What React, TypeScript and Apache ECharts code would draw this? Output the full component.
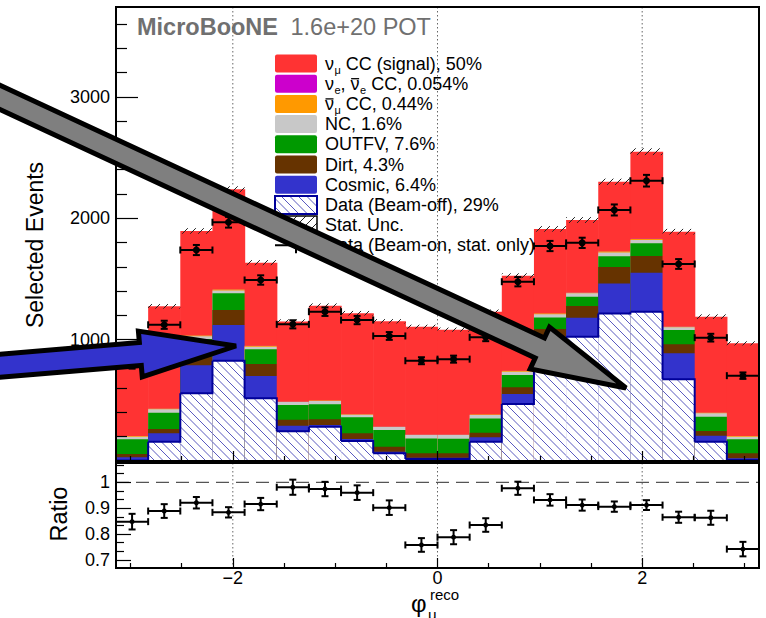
import { useEffect, useRef } from "react";
import * as echarts from "echarts";

// ---- binning: 20 bins of reconstructed muon azimuth, -pi .. pi ----
const PI = Math.PI;
const BIN_WIDTH = PI / 10;
const binLow = Array.from({ length: 20 }, (_, i) => -PI + i * BIN_WIDTH);

// ---- stacked prediction, events per bin (bottom to top) ----
const beamOff = [5, 159, 558, 826, 516, 246, 283, 165, 63, 16, 16, 159, 470, 890, 1024, 1216, 1230, 673, 159, 8];
const cosmic = [25, 69, 230, 294, 184, 44, 14, 16, 14, 11, 11, 36, 82, 120, 156, 247, 321, 214, 49, 14];
const dirt = [28, 36, 71, 124, 99, 50, 46, 47, 41, 36, 36, 38, 55, 77, 97, 135, 138, 74, 39, 41];
const outFV = [121, 134, 146, 137, 121, 121, 125, 132, 137, 123, 120, 118, 101, 95, 77, 88, 104, 118, 118, 116];
const nc = [21, 28, 23, 24, 22, 25, 27, 20, 25, 28, 31, 28, 28, 27, 27, 32, 27, 22, 28, 21];
const numuBarCC = [5, 6, 8, 10, 7, 5, 6, 5, 5, 5, 5, 6, 7, 8, 8, 10, 11, 8, 6, 5];
const nueCC = [1, 1, 1, 1, 1, 1, 1, 1, 1, 1, 1, 1, 1, 1, 1, 1, 1, 1, 1, 1];
const numuCC = [724, 841, 858, 822, 684, 657, 777, 831, 865, 886, 862, 844, 782, 694, 595, 571, 716, 779, 789, 763];
const statUnc = [17, 19, 23, 25, 21, 18, 19, 19, 18, 17, 17, 18, 20, 23, 24, 26, 28, 23, 19, 17];

// ---- beam-on data and data / prediction ratio ----
const beamOn = [789, 1122, 1738, 1967, 1491, 1126, 1230, 1161, 1030, 826, 839, 1019, 1477, 1771, 1797, 2068, 2309, 1623, 1016, 703];
const ratio = [0.848, 0.889, 0.921, 0.884, 0.916, 0.981, 0.974, 0.96, 0.902, 0.758, 0.788, 0.835, 0.977, 0.932, 0.912, 0.906, 0.912, 0.865, 0.863, 0.742];

// ---- axis ticks ----
const xMajor = [-2, 0, 2];
const xMinor = [-3, -2.5, -1.5, -1, -0.5, 0.5, 1, 1.5, 2.5, 3];
const yMajor = [1000, 2000, 3000];
const yMinor = [200, 400, 600, 800, 1200, 1400, 1600, 1800, 2200, 2400, 2600, 2800, 3200, 3400, 3600];
const rMajor = [0.7, 0.8, 0.9, 1.0];
const rMinor = [0.7333, 0.7667, 0.8333, 0.8667, 0.9333, 0.9667, 1.0333, 1.0667];

const FONT = '"Liberation Sans", Arial, Helvetica, sans-serif';

const stackLayers = [
  { values: beamOff, color: "#ffffff" },
  { values: cosmic, color: "#3333cc" },
  { values: dirt, color: "#663300" },
  { values: outFV, color: "#009900" },
  { values: nc, color: "#c8c8c8" },
  { values: numuBarCC, color: "#ff9900" },
  { values: nueCC, color: "#cc00cc" },
  { values: numuCC, color: "#ff3333" },
];

const totalPred = (i: number) => stackLayers.reduce((s, l) => s + l.values[i], 0);

// Diagonal hatch lines clipped to a box; dir "\\" or "/", aligned globally.
function hatch(X0: number, Y0: number, X1: number, Y1: number, s: number, dir: string, stroke: string, lw = 1) {
  const out: any[] = [];
  if (dir === "\\") {
    const k0 = Math.ceil((Y0 - X1) / s), k1 = Math.floor((Y1 - X0) / s);
    for (let k = k0; k <= k1; k++) {
      const c = k * s;
      const xs = Math.max(X0, Y0 - c), xe = Math.min(X1, Y1 - c);
      if (xe > xs) out.push({ type: "line", shape: { x1: xs, y1: xs + c, x2: xe, y2: xe + c }, style: { stroke, lineWidth: lw } });
    }
  } else {
    const k0 = Math.ceil((X0 + Y0) / s), k1 = Math.floor((X1 + Y1) / s);
    for (let k = k0; k <= k1; k++) {
      const c = k * s;
      const xs = Math.max(X0, c - Y1), xe = Math.min(X1, c - Y0);
      if (xe > xs) out.push({ type: "line", shape: { x1: xs, y1: c - xs, x2: xe, y2: c - xe }, style: { stroke, lineWidth: lw } });
    }
  }
  return out;
}

function errorMarker(px0: number, px1: number, cx: number, cy: number, yHi: number, yLo: number, r: number, cap: number) {
  const st = { stroke: "#000", lineWidth: 2 };
  return [
    { type: "line", shape: { x1: px0, y1: cy, x2: px1, y2: cy }, style: st },
    { type: "line", shape: { x1: px0, y1: cy - cap, x2: px0, y2: cy + cap }, style: st },
    { type: "line", shape: { x1: px1, y1: cy - cap, x2: px1, y2: cy + cap }, style: st },
    { type: "line", shape: { x1: cx, y1: yHi, x2: cx, y2: yLo }, style: st },
    { type: "line", shape: { x1: cx - cap, y1: yHi, x2: cx + cap, y2: yHi }, style: st },
    { type: "line", shape: { x1: cx - cap, y1: yLo, x2: cx + cap, y2: yLo }, style: st },
    { type: "circle", shape: { cx, cy, r }, style: { fill: "#000" } },
  ];
}

function arrowPoints(x0: number, y0: number, x1: number, y1: number, sh: number, hl: number, hh: number) {
  const L = Math.hypot(x1 - x0, y1 - y0);
  const ux = (x1 - x0) / L, uy = (y1 - y0) / L;
  const px = -uy, py = ux;
  const bx = x1 - ux * hl, by = y1 - uy * hl;
  return [
    [x0 + px * sh, y0 + py * sh],
    [bx + px * sh, by + py * sh],
    [bx + px * hh, by + py * hh],
    [x1, y1],
    [bx - px * hh, by - py * hh],
    [bx - px * sh, by - py * sh],
    [x0 - px * sh, y0 - py * sh],
  ];
}

const binData = binLow.map((x, i) => [x + BIN_WIDTH / 2, beamOn[i]]);

function xAxis(gridIndex: number, ticks: number[], len: number, labels: boolean) {
  return {
    type: "value", gridIndex, min: -PI, max: PI, position: "bottom", z: 20,
    axisLine: { show: false, onZero: false }, splitLine: { show: false }, minorSplitLine: { show: false }, splitArea: { show: false },
    axisTick: { show: true, inside: true, length: len, customValues: ticks, lineStyle: { color: "#000", width: 1.2 } },
    axisLabel: labels
      ? { show: true, customValues: ticks, fontSize: 18, fontFamily: FONT, color: "#000", margin: 1,
          formatter: (v: number) => (v < 0 ? "\u2212" + Math.abs(v) : String(v)) }
      : { show: false },
  };
}

function yAxis(gridIndex: number, min: number, max: number, ticks: number[], len: number, labels: boolean) {
  return {
    type: "value", gridIndex, min, max, position: "left", z: 20,
    axisLine: { show: false, onZero: false }, splitLine: { show: false }, minorSplitLine: { show: false }, splitArea: { show: false },
    axisTick: { show: true, inside: true, length: len, customValues: ticks, lineStyle: { color: "#000", width: 1.2 } },
    axisLabel: labels
      ? { show: true, customValues: ticks, fontSize: 18, fontFamily: FONT, color: "#000", margin: 6,
          formatter: (v: number) => String(+v.toFixed(1)) }
      : { show: false },
  };
}

export default function App() {
  const ref = useRef<HTMLDivElement>(null);

  useEffect(() => {
    if (!ref.current) return;
    const chart = echarts.init(ref.current, undefined, { renderer: "svg" });

    const ctx = document.createElement("canvas").getContext("2d")!;
    const textWidth = (t: string, size: number, weight = "normal") => {
      ctx.font = `${weight} ${size}px "Liberation Sans"`;
      return ctx.measureText(t).width;
    };

    // ---- legend ----
    const legendRows = [
      { box: "fill", color: "#ff3333", segs: [["n", "ν"], ["sub", "μ"], ["n", " CC (signal), 50%"]] },
      { box: "fill", color: "#cc00cc", segs: [["n", "ν"], ["sub", "e"], ["n", ", "], ["bar", "ν"], ["sub", "e"], ["n", " CC, 0.054%"]] },
      { box: "fill", color: "#ff9900", segs: [["bar", "ν"], ["sub", "μ"], ["n", " CC, 0.44%"]] },
      { box: "fill", color: "#c8c8c8", segs: [["n", "NC, 1.6%"]] },
      { box: "fill", color: "#009900", segs: [["n", "OUTFV, 7.6%"]] },
      { box: "fill", color: "#663300", segs: [["n", "Dirt, 4.3%"]] },
      { box: "fill", color: "#3333cc", segs: [["n", "Cosmic, 6.4%"]] },
      { box: "beamoff", color: "", segs: [["n", "Data (Beam-off), 29%"]] },
      { box: "stat", color: "", segs: [["n", "Stat. Unc."]] },
      { box: "data", color: "", segs: [["n", "Data (Beam-on, stat. only)"]] },
    ];
    const LFS = 18, SFS = 11;
    const legend: any[] = [];
    legendRows.forEach((row, k) => {
      const yc = 63.5 + k * 20.2;
      const bx = 275, bw = 42, bh = 18;
      if (row.box === "fill") {
        legend.push({ type: "rect", shape: { x: bx, y: yc - bh / 2, width: bw, height: bh, r: 2 }, style: { fill: row.color } });
      } else if (row.box === "beamoff") {
        legend.push({ type: "rect", shape: { x: bx, y: yc - bh / 2, width: bw, height: bh }, style: { fill: "#fff" } });
        legend.push(...hatch(bx, yc - bh / 2, bx + bw, yc + bh / 2, 8.5, "\\", "#5a5ac0"));
        legend.push({ type: "rect", shape: { x: bx, y: yc - bh / 2, width: bw, height: bh }, style: { fill: null, stroke: "#000099", lineWidth: 2 } });
      } else if (row.box === "stat") {
        legend.push({ type: "rect", shape: { x: bx, y: yc - bh / 2, width: bw, height: bh }, style: { fill: "#fff" } });
        legend.push(...hatch(bx, yc - bh / 2, bx + bw, yc + bh / 2, 9, "/", "#222"));
        legend.push({ type: "rect", shape: { x: bx, y: yc - bh / 2, width: bw, height: bh }, style: { fill: null, stroke: "#000", lineWidth: 1.5 } });
      } else {
        const st = { stroke: "#000", lineWidth: 2 };
        legend.push({ type: "line", shape: { x1: bx, y1: yc, x2: bx + bw, y2: yc }, style: st });
        legend.push({ type: "line", shape: { x1: bx + bw / 2, y1: yc - 8, x2: bx + bw / 2, y2: yc + 8 }, style: st });
        legend.push({ type: "circle", shape: { cx: bx + bw / 2, cy: yc, r: 3.5 }, style: { fill: "#000" } });
      }
      let x = 325;
      for (const [kind, t] of row.segs) {
        if (kind === "sub") {
          legend.push({ type: "text", x: x + 0.5, y: yc + 6.5, style: { text: t, fontSize: SFS, fontFamily: FONT, fill: "#000", align: "left", verticalAlign: "middle" } });
          x += textWidth(t, SFS) + 0.5;
        } else {
          legend.push({ type: "text", x, y: yc, style: { text: t, fontSize: LFS, fontFamily: FONT, fill: "#000", align: "left", verticalAlign: "middle" } });
          const w = textWidth(t, LFS);
          if (kind === "bar") {
            legend.push({ type: "line", shape: { x1: x + 0.5, y1: yc - 5, x2: x + w - 0.5, y2: yc - 5 }, style: { stroke: "#000", lineWidth: 1.3 } });
          }
          x += w;
        }
      }
    });

    const T_MAX = 3740, R_MIN = 0.669, R_MAX = 1.0745;

    // ---- series renderers ----
    const renderStack = (params: any, api: any) => {
      const i = params.dataIndex;
      const x0 = binLow[i], x1 = x0 + BIN_WIDTH;
      const tops: number[] = [];
      let acc = 0;
      for (const l of stackLayers) { acc += l.values[i]; tops.push(acc); }
      const [px0, pBase] = api.coord([x0, 0]);
      const px1 = api.coord([x1, 0])[0];
      const w = px1 - px0 + (i < 19 ? 0.6 : 0);
      const children: any[] = [];
      for (let k = stackLayers.length - 1; k >= 0; k--) {
        const py = api.coord([x0, tops[k]])[1];
        children.push({ type: "rect", shape: { x: px0, y: py, width: w, height: pBase - py }, style: { fill: stackLayers[k].color } });
      }
      const hTop = api.coord([x0, beamOff[i]])[1];
      children.push(...hatch(px0, hTop, px1, pBase, 8.5, "\\", "#5a5ac0"));
      return { type: "group", children };
    };

    const renderOutline = (params: any, api: any) => {
      const i = params.dataIndex;
      const x0 = binLow[i], x1 = x0 + BIN_WIDTH;
      const pts: number[][] = [];
      if (i === 0) pts.push(api.coord([x0, 0]));
      const [a, y] = api.coord([x0, beamOff[i]]);
      const b = api.coord([x1, beamOff[i]])[0];
      pts.push([a, y], [b, y]);
      if (i < 19) pts.push([b, api.coord([x1, beamOff[i + 1]])[1]]);
      else pts.push(api.coord([x1, 0]));
      return { type: "polyline", shape: { points: pts }, style: { stroke: "#000099", lineWidth: 2, fill: null } };
    };

    const renderStat = (params: any, api: any) => {
      const i = params.dataIndex;
      const x0 = binLow[i], x1 = x0 + BIN_WIDTH;
      const t = totalPred(i);
      const [px0, yTop] = api.coord([x0, t + statUnc[i]]);
      const [px1, yBot] = api.coord([x1, t - statUnc[i]]);
      return { type: "group", children: hatch(px0, yTop, px1, yBot, 8, "/", "#222") };
    };

    const renderData = (params: any, api: any) => {
      const i = params.dataIndex;
      const x0 = binLow[i], x1 = x0 + BIN_WIDTH, xc = x0 + BIN_WIDTH / 2;
      const n = beamOn[i], e = Math.sqrt(n);
      const [cx, cy] = api.coord([xc, n]);
      const px0 = api.coord([x0, n])[0], px1 = api.coord([x1, n])[0];
      const yHi = api.coord([xc, n + e])[1], yLo = api.coord([xc, n - e])[1];
      return { type: "group", children: errorMarker(px0, px1, cx, cy, yHi, yLo, 3.5, 3.5) };
    };

    const renderRatio = (params: any, api: any) => {
      const i = params.dataIndex;
      const x0 = binLow[i], x1 = x0 + BIN_WIDTH, xc = x0 + BIN_WIDTH / 2;
      const r = ratio[i], e = r / Math.sqrt(beamOn[i]);
      const [cx, cy] = api.coord([xc, r]);
      const px0 = api.coord([x0, r])[0], px1 = api.coord([x1, r])[0];
      const yHi = api.coord([xc, r + e])[1], yLo = api.coord([xc, r - e])[1];
      return { type: "group", children: errorMarker(px0, px1, cx, cy, yHi, yLo, 2.5, 3.5) };
    };

    const dotted = { stroke: "#666", lineWidth: 1, lineDash: [1.5, 2.5] };

    // Top panel: the gridline only shows above the histogram stack of its bin.
    const renderDottedTop = (_p: any, api: any) => {
      const v = api.value(0);
      const i = Math.min(19, Math.floor((v + PI) / BIN_WIDTH + 1e-9));
      const top = Math.max(totalPred(i), i > 0 ? totalPred(i - 1) : 0);
      const [x, y1] = api.coord([v, T_MAX]);
      const y2 = api.coord([v, top + statUnc[i]])[1];
      return { type: "line", shape: { x1: x, y1, x2: x, y2 }, style: dotted };
    };

    const renderDottedRatio = (_p: any, api: any) => {
      const v = api.value(0);
      const [x, y1] = api.coord([v, R_MAX]);
      const y2 = api.coord([v, R_MIN])[1];
      return { type: "line", shape: { x1: x, y1, x2: x, y2 }, style: dotted };
    };

    const renderUnity = (_p: any, api: any) => {
      const [xa, y] = api.coord([-PI, 1]);
      const xb = api.coord([PI, 1])[0];
      return { type: "line", shape: { x1: xa, y1: y, x2: xb, y2: y }, style: { stroke: "#555", lineWidth: 1.2, lineDash: [13, 7] } };
    };

    const graphic: any[] = [
      { type: "text", x: 137, y: 26.5, style: { text: "MicroBooNE", fontSize: 23.5, fontWeight: "bold", fontFamily: FONT, fill: "#707070", align: "left", verticalAlign: "middle" } },
      { type: "text", x: 290.5, y: 26.5, style: { text: "1.6e+20 POT", fontSize: 23.5, fontFamily: FONT, fill: "#707070", align: "left", verticalAlign: "middle" } },
      { type: "text", x: 35, y: 245, rotation: Math.PI / 2, style: { text: "Selected Events", fontSize: 23, fontFamily: FONT, fill: "#000", align: "center", verticalAlign: "middle" } },
      { type: "text", x: 59, y: 514, rotation: Math.PI / 2, style: { text: "Ratio", fontSize: 23.5, fontFamily: FONT, fill: "#000", align: "center", verticalAlign: "middle" } },
      { type: "text", x: 411, y: 603, style: { text: "φ", fontSize: 24, fontFamily: FONT, fill: "#000", align: "left", verticalAlign: "middle" } },
      { type: "text", x: 430, y: 594, style: { text: "reco", fontSize: 15, fontFamily: FONT, fill: "#000", align: "left", verticalAlign: "middle" } },
      { type: "text", x: 428, y: 614, style: { text: "μ", fontSize: 15, fontFamily: FONT, fill: "#000", align: "left", verticalAlign: "middle" } },
      ...legend,
      { type: "polygon", z: 100, shape: { points: arrowPoints(-20, 367.5, 236, 346, 11.5, 96, 23) }, style: { fill: "#3333cc", stroke: "#000", lineWidth: 5, lineJoin: "miter" } },
      { type: "polygon", z: 100, shape: { points: arrowPoints(-20, 88.2, 626, 388, 11, 95, 23) }, style: { fill: "#7f7f7f", stroke: "#000", lineWidth: 5, lineJoin: "miter" } },
    ];

    chart.setOption({
      animation: false,
      textStyle: { fontFamily: FONT },
      grid: [
        { left: 116, top: 7, width: 643, height: 454, show: true, borderColor: "#000", borderWidth: 2, backgroundColor: "transparent", z: 10 },
        { left: 116, top: 463, width: 643, height: 105, show: true, borderColor: "#000", borderWidth: 2, backgroundColor: "transparent", z: 10 },
      ],
      xAxis: [xAxis(0, xMajor, 10, false), xAxis(0, xMinor, 5, false), xAxis(1, xMajor, 10, true), xAxis(1, xMinor, 5, false)],
      yAxis: [
        yAxis(0, 0, T_MAX, yMajor, 22, true), yAxis(0, 0, T_MAX, yMinor, 11, false),
        yAxis(1, R_MIN, R_MAX, rMajor, 15, true), yAxis(1, R_MIN, R_MAX, rMinor, 8, false),
      ],
      series: [
        { type: "custom", silent: true, xAxisIndex: 0, yAxisIndex: 0, z: 1, data: xMajor.map((v) => [v, 0]), renderItem: renderDottedTop },
        { type: "custom", silent: true, xAxisIndex: 0, yAxisIndex: 0, z: 2, data: binData, renderItem: renderStack },
        { type: "custom", silent: true, xAxisIndex: 0, yAxisIndex: 0, z: 3, data: binData, renderItem: renderOutline },
        { type: "custom", silent: true, xAxisIndex: 0, yAxisIndex: 0, z: 4, data: binData, renderItem: renderStat },
        { type: "custom", silent: true, xAxisIndex: 0, yAxisIndex: 0, z: 5, data: binData, renderItem: renderData },
        { type: "custom", silent: true, xAxisIndex: 2, yAxisIndex: 2, z: 1, data: xMajor.map((v) => [v, 1]), renderItem: renderDottedRatio },
        { type: "custom", silent: true, xAxisIndex: 2, yAxisIndex: 2, z: 1, data: [[0, 1]], renderItem: renderUnity },
        { type: "custom", silent: true, xAxisIndex: 2, yAxisIndex: 2, z: 5, data: binLow.map((x, i) => [x + BIN_WIDTH / 2, ratio[i]]), renderItem: renderRatio },
      ],
      graphic,
    });

    return () => chart.dispose();
  }, []);

  return <div ref={ref} style={{ position: "fixed", left: 0, top: 0, width: 766, height: 618, background: "#fff" }} />;
}
